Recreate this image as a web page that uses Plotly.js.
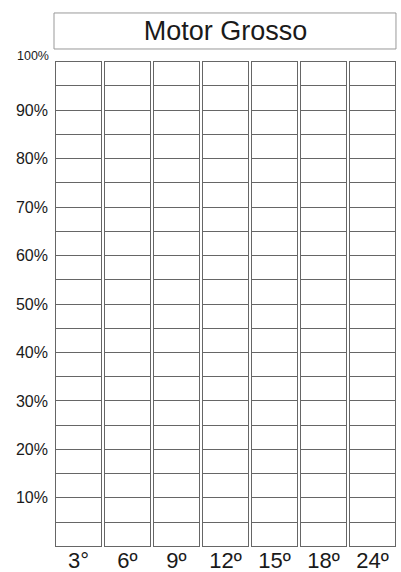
<!DOCTYPE html>
<html>
<head>
<meta charset="utf-8">
<script src="https://cdn.plot.ly/plotly-3.0.1.min.js"></script>
<style>html,body{margin:0;padding:0;background:#fff;}#chart{width:401px;height:572px;}</style>
</head>
<body>
<div id="chart"></div>
<script>
// Chart content
const chartTitle = 'Motor Grosso';
const categories = ['3°', '6º', '9º', '12º', '15º', '18º', '24º'];
// The template is blank: each column is split into equal 5% cells up to 100%
const cellLevels = [5, 10, 15, 20, 25, 30, 35, 40, 45, 50, 55, 60, 65, 70, 75, 80, 85, 90, 95, 100];
const cellSize = 5;
const yTickValues = [10, 20, 30, 40, 50, 60, 70, 80, 90];
const yTickLabels = ['10%', '20%', '30%', '40%', '50%', '60%', '70%', '80%', '90%'];
const topLabel = '100%';
const topValue = 100;

const font = 'Liberation Sans, Arial, sans-serif';

const traces = cellLevels.map(function (lvl) {
  return {
    type: 'bar',
    x: categories,
    y: categories.map(function () { return cellSize; }),
    name: lvl + '%',
    marker: { color: '#ffffff', line: { color: '#666666', width: 1 } },
    hoverinfo: 'skip',
    showlegend: false
  };
});

const layout = {
  width: 401,
  height: 572,
  margin: { l: 54, r: 4, t: 61, b: 25, pad: 0 },
  paper_bgcolor: '#ffffff',
  plot_bgcolor: '#ffffff',
  barmode: 'stack',
  bargap: 0.08,
  font: { family: font, color: '#222222' },
  title: {
    text: chartTitle,
    font: { family: font, size: 27, color: '#1a1a1a' },
    xref: 'paper', x: 0.5, xanchor: 'center',
    yref: 'container', y: 0.946, yanchor: 'middle'
  },
  xaxis: {
    type: 'category',
    range: [-0.5, categories.length - 0.5],
    showgrid: false, zeroline: false, showline: false,
    ticks: '', ticklen: 0,
    tickfont: { family: font, size: 22, color: '#1a1a1a' },
    ticklabelstandoff: -2
  },
  yaxis: {
    range: [-0.15, topValue + 0.15],
    showgrid: false, zeroline: false, showline: false,
    ticks: '',
    tickmode: 'array',
    tickvals: yTickValues,
    ticktext: yTickLabels,
    tickfont: { family: font, size: 16, color: '#1a1a1a' },
    ticklabelstandoff: 5
  },
  shapes: [{
    type: 'rect', xref: 'paper', yref: 'paper',
    x0: 0, x1: 0.997, y0: 1.0247, y1: 1.0988,
    line: { color: '#999999', width: 1 }, fillcolor: 'rgba(0,0,0,0)'
  }],
  annotations: [{
    text: topLabel, xref: 'paper', yref: 'y',
    x: 0, y: topValue, xanchor: 'right', yanchor: 'bottom',
    xshift: -3, yshift: -3, showarrow: false,
    font: { family: font, size: 12.5, color: '#1a1a1a' }
  }]
};

Plotly.newPlot('chart', traces, layout, { displayModeBar: false, staticPlot: true });
</script>
</body>
</html>
